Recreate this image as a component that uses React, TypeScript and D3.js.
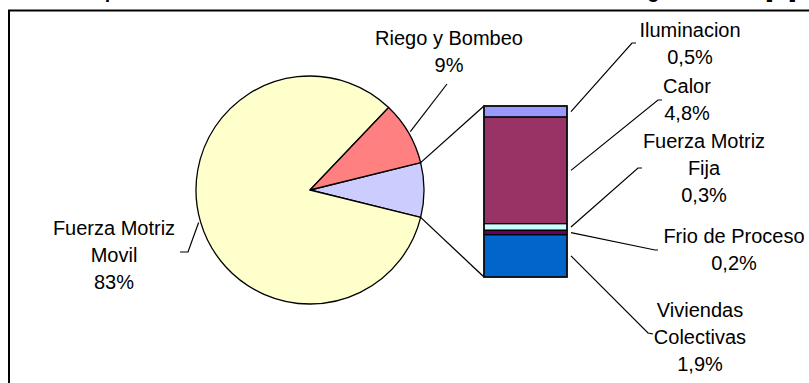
import React from "react";
import * as d3 from "d3";

// ---- data ----
const PIE_CATEGORIES = ["Otros usos", "Fuerza Motriz Movil", "Riego y Bombeo"];
const PIE_MAIN_VALUES = [83, 9]; // Fuerza Motriz Movil, Riego y Bombeo
const BAR_CATEGORIES = ["Iluminacion", "Calor", "Fuerza Motriz Fija", "Frio de Proceso", "Viviendas Colectivas"];
const BAR_VALUES = [0.5, 4.8, 0.3, 0.2, 1.9];
const PIE_LABEL_LINES = [["Fuerza Motriz", "Movil"], ["Riego y Bombeo"]];
const BAR_LABEL_LINES = [["Iluminacion"], ["Calor"], ["Fuerza Motriz", "Fija"], ["Frio de Proceso"], ["Viviendas", "Colectivas"]];
const TITLE = "Composición del consumo del sector rural en términos de energía eléctrica [%]";

// ---- styles / layout ----
const W = 809, H = 383;
const PIE_COLORS = ["#CCCCFF", "#FFFFCC", "#FF8080"];
const BAR_COLORS = ["#9999FF", "#993366", "#CCFFFF", "#660066", "#0066CC"];
const CX = 310, CY = 190, R = 114;
const BAR_X0 = 484, BAR_X1 = 567, BAR_TOP = 106, BAR_BOTTOM = 277;
const FONT = "'Liberation Sans', Arial, Helvetica, sans-serif";
const LH = 27;
const PIE_LABEL_LAYOUT = [
  { cx: 114, y0: 235, pts: [[188, 252], [180, 252]] },
  { cx: 449, y0: 45, pts: [[447, 84]] },
];
const BAR_LABEL_LAYOUT = [
  { cx: 690, y0: 37, pts: [[632, 43], [636, 43]] },
  { cx: 687, y0: 93, pts: [[658, 100], [662, 100]] },
  { cx: 704, y0: 148, pts: [[638, 168], [642, 168]] },
  { cx: 734, y0: 243, pts: [[655, 250], [658, 250]] },
  { cx: 700, y0: 317, pts: [[648, 333], [653, 334]] },
];

const fmtBar = (v: number) => d3.format(".1f")(v).replace(".", ",") + "%";
const fmtPie = (v: number) => d3.format(".0f")(v) + "%";

export default function App() {
  const otherTotal = d3.sum(BAR_VALUES);
  const pieValues = [otherTotal, ...PIE_MAIN_VALUES];
  const total = d3.sum(pieValues);
  const otherAngle = (2 * Math.PI * otherTotal) / total;
  const start = Math.PI / 2 - otherAngle / 2;
  const arcsData = d3
    .pie<number>()
    .sort(null)
    .value((d) => d)
    .startAngle(start)
    .endAngle(start + 2 * Math.PI)(pieValues);
  const arc = d3.arc<d3.PieArcDatum<number>>().innerRadius(0).outerRadius(R);
  const pt = (a: number, r: number) => [CX + r * Math.sin(a), CY - r * Math.cos(a)];

  const y = d3.scaleLinear().domain([0, otherTotal]).range([BAR_TOP, BAR_BOTTOM]);
  const cum = BAR_VALUES.reduce<number[]>((acc, v, i) => {
    acc.push((i ? acc[i - 1] : 0) + v);
    return acc;
  }, []);
  const segs = BAR_VALUES.map((v, i) => ({ y0: y(cum[i] - v), y1: y(cum[i]), v, i }));

  const other = arcsData[0];
  const pTop = pt(other.startAngle, R);
  const pBot = pt(other.endAngle, R);

  const line = d3.line();

  return (
    <svg width={W} height={H} style={{ position: "absolute", left: 0, top: 0, background: "#fff" }} fontFamily={FONT}>
      <rect x={0} y={0} width={W} height={H} fill="#fff" />
      <text x={796} y={-2} textAnchor="end" fontSize={19.5} fontWeight="bold" fill="#000">
        {TITLE}
      </text>
      <rect x={9} y={10.5} width={W + 20} height={H + 20} fill="none" stroke="#000" strokeWidth={2} />

      {/* connectors pie -> bar */}
      <line x1={pTop[0]} y1={pTop[1]} x2={BAR_X0} y2={BAR_TOP} stroke="#000" strokeWidth={1.3} />
      <line x1={pBot[0]} y1={pBot[1]} x2={BAR_X0} y2={BAR_BOTTOM} stroke="#000" strokeWidth={1.3} />

      {/* pie */}
      <g transform={`translate(${CX},${CY})`}>
        {arcsData.map((d, i) => (
          <path key={PIE_CATEGORIES[i]} d={arc(d) || ""} fill={PIE_COLORS[i]} stroke="#000" strokeWidth={1.3} strokeLinejoin="round" />
        ))}
      </g>

      {/* bar */}
      {segs.map((s) => (
        <rect key={BAR_CATEGORIES[s.i]} x={BAR_X0} y={s.y0} width={BAR_X1 - BAR_X0} height={s.y1 - s.y0} fill={BAR_COLORS[s.i]} stroke="#000" strokeWidth={1.3} />
      ))}
      <rect x={BAR_X0} y={BAR_TOP} width={BAR_X1 - BAR_X0} height={BAR_BOTTOM - BAR_TOP} fill="none" stroke="#111" strokeWidth={1.6} />

      {/* pie labels */}
      {arcsData.slice(1).map((d, k) => {
        const mid = (d.startAngle + d.endAngle) / 2;
        const s = pt(mid, R + 2);
        const lay = PIE_LABEL_LAYOUT[k];
        const lines = [...PIE_LABEL_LINES[k], fmtPie(d.data)];
        return (
          <g key={"pl" + k}>
            <path d={line([s as [number, number], ...(lay.pts as [number, number][])]) || ""} fill="none" stroke="#000" strokeWidth={1.2} />
            <text textAnchor="middle" fontSize={20} fill="#000">
              {lines.map((t, j) => (
                <tspan key={j} x={lay.cx} y={lay.y0 + j * LH}>{t}</tspan>
              ))}
            </text>
          </g>
        );
      })}

      {/* bar labels */}
      {segs.map((s) => {
        const lay = BAR_LABEL_LAYOUT[s.i];
        const start: [number, number] = [BAR_X1 + 4, (s.y0 + s.y1) / 2];
        const lines = [...BAR_LABEL_LINES[s.i], fmtBar(s.v)];
        return (
          <g key={"bl" + s.i}>
            <path d={line([start, ...(lay.pts as [number, number][])]) || ""} fill="none" stroke="#000" strokeWidth={1.2} />
            <text textAnchor="middle" fontSize={20} fill="#000">
              {lines.map((t, j) => (
                <tspan key={j} x={lay.cx} y={lay.y0 + j * LH}>{t}</tspan>
              ))}
            </text>
          </g>
        );
      })}
    </svg>
  );
}
